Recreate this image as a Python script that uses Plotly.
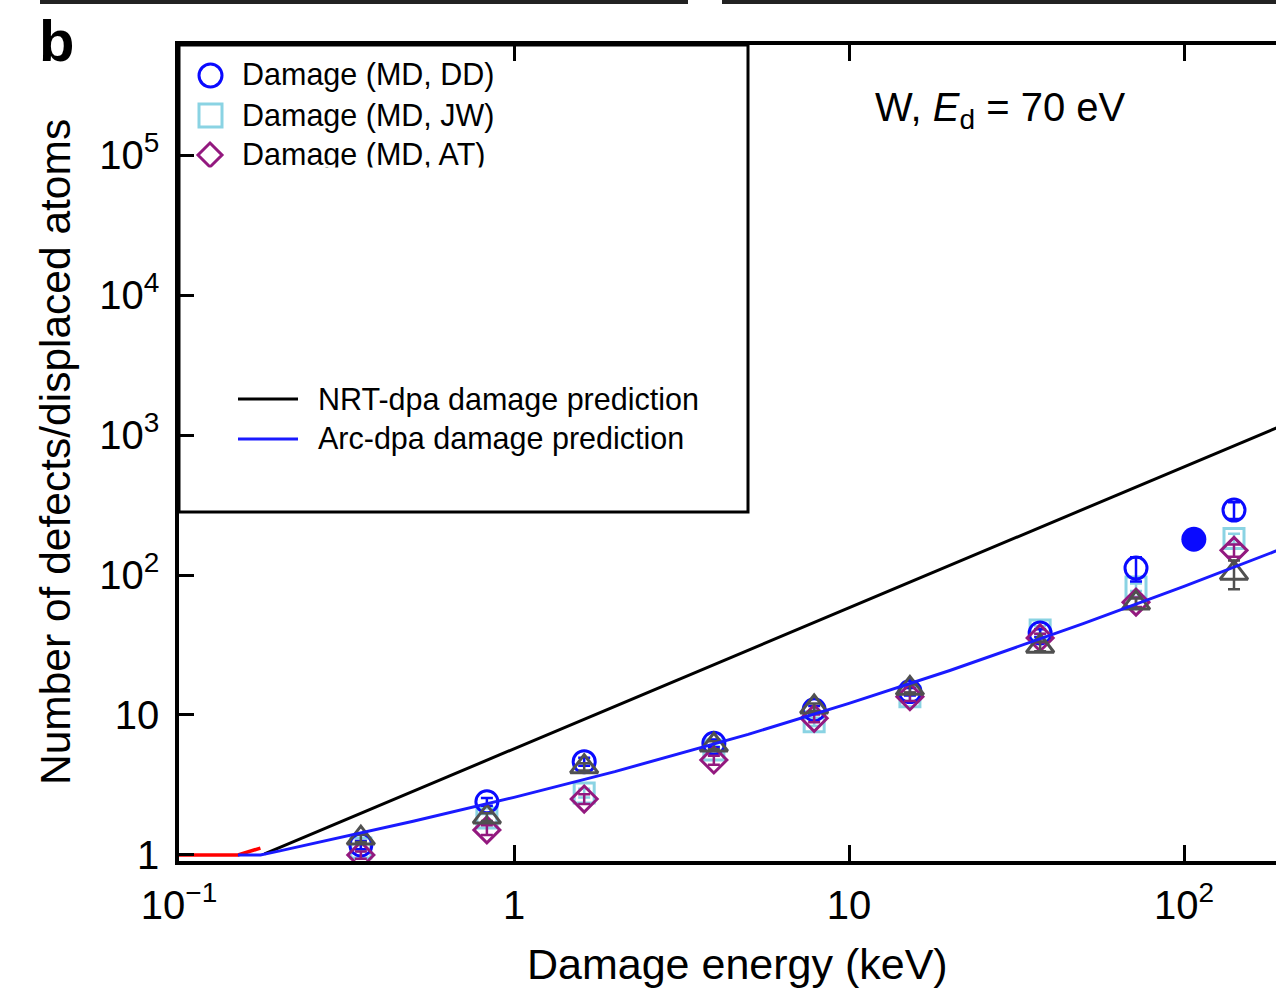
import plotly.graph_objects as go

# ---------------- data ----------------
E_md = [0.349, 0.83, 1.62, 3.95, 7.87, 15.2, 37.2, 71.9, 141]
dmg_dd = [1.18, 2.40, 4.64, 6.28, 10.9, 14.7, 38.5, 112, 291]
dmg_dd_err = [0.08, 0.15, 0.3, 0.4, 0.7, 0.9, 2.5, 22, 40]
dmg_jw = [1.12, 1.84, 2.77, 5.62, 8.96, 13.5, 40.5, 82, 182]
dmg_jw_err = [0.06, 0.12, 0.2, 0.35, 0.6, 0.9, 2.5, 5, 15]
dmg_at = [1.0, 1.51, 2.51, 4.77, 9.47, 13.5, 35.5, 64, 150]
dmg_at_err = [0.06, 0.12, 0.2, 0.35, 0.6, 0.9, 2.5, 5, 15]
dmg_md4 = [1.32, 1.87, 4.27, 6.1, 11.4, 15.5, 31, 63, 103]
dmg_md4_err = [0.08, 0.12, 0.25, 0.4, 0.7, 1.0, 2.5, 5, 24]
E_filled = [107]
dmg_filled = [180]

E_red = [0.1, 0.15, 0.175]
dmg_red = [1.0, 1.0, 1.12]
E_nrt = [0.18, 200]
dmg_nrt = [1.02, 1190]
E_arc = [0.15, 0.175, 0.2, 0.3, 0.5, 1, 2, 5, 10, 20, 50, 100, 200]
dmg_arc = [1.0, 1.0, 1.07, 1.32, 1.74, 2.58, 3.94, 7.27, 12.1, 20.8, 44.9, 83, 157]

x_tickvals = [0.1, 1, 10, 100]
x_ticktext = ["10<sup>\u22121</sup>", "1", "10", "10<sup>2</sup>"]
y_tickvals = [1, 10, 100, 1e3, 1e4, 1e5]
y_ticktext = ["1", "10", "10<sup>2</sup>", "10<sup>3</sup>", "10<sup>4</sup>", "10<sup>5</sup>"]

legend_labels = ["Damage (MD, DD)", "Damage (MD, JW)", "Damage (MD, AT)",
                 "NRT-dpa damage prediction", "Arc-dpa damage prediction"]

# ---------------- styling ----------------
FONT = "Liberation Sans, Arial, Helvetica, sans-serif"
C_DD = "#0a0aff"
C_JW = "#8ad3e3"
C_AT = "#93197f"
C_MD4 = "#505050"
C_ARC = "#1a1aff"

W, H = 1276, 991
L, R, T, B = 179, 0, 45, 130
PW = W - L - R
PH = H - T - B


def px2x(px):
    return (px - L) / PW


def px2y(py):
    return (H - B - py) / PH


fig = go.Figure()


def md_trace(y, err, symbol, color, size, name):
    return go.Scatter(
        x=E_md, y=y, mode="markers", name=name,
        marker=dict(symbol=symbol, size=size, color=color,
                    line=dict(color=color, width=3)),
        error_y=dict(type="data", array=err, visible=True, color=color,
                     thickness=2.5, width=6),
        showlegend=False,
    )


fig.add_trace(md_trace(dmg_jw, dmg_jw_err, "square-open", C_JW, 20, legend_labels[1]))
fig.add_trace(md_trace(dmg_dd, dmg_dd_err, "circle-open", C_DD, 22, legend_labels[0]))
fig.add_trace(md_trace(dmg_at, dmg_at_err, "diamond-open", C_AT, 20, legend_labels[2]))
fig.add_trace(md_trace(dmg_md4, dmg_md4_err, "triangle-up-open", C_MD4, 24, "Damage (MD)"))
fig.add_trace(go.Scatter(x=E_filled, y=dmg_filled, mode="markers",
                         marker=dict(symbol="circle", size=25, color=C_DD),
                         showlegend=False))

fig.add_trace(go.Scatter(x=E_red, y=dmg_red, mode="lines",
                         line=dict(color="#ff0000", width=3.5), showlegend=False))
fig.add_trace(go.Scatter(x=E_nrt, y=dmg_nrt, mode="lines", name=legend_labels[3],
                         line=dict(color="black", width=3), showlegend=False))
fig.add_trace(go.Scatter(x=E_arc, y=dmg_arc, mode="lines", name=legend_labels[4],
                         line=dict(color=C_ARC, width=3), showlegend=False))

shapes = []
# legend box
shapes.append(dict(type="rect", xref="paper", yref="paper",
                   x0=px2x(179), x1=px2x(748), y0=px2y(512), y1=px2y(45),
                   fillcolor="white", line=dict(color="black", width=3), layer="below"))
# legend symbols
shapes.append(dict(type="circle", xref="paper", yref="paper",
                   x0=px2x(199), x1=px2x(222), y0=px2y(87), y1=px2y(64),
                   line=dict(color=C_DD, width=3), layer="above"))
shapes.append(dict(type="rect", xref="paper", yref="paper",
                   x0=px2x(199), x1=px2x(222), y0=px2y(127), y1=px2y(104),
                   line=dict(color=C_JW, width=3), layer="above"))
cx, cy, r = 210, 155, 12
shapes.append(dict(type="path", xref="paper", yref="paper",
                   path=f"M {px2x(cx)},{px2y(cy - r)} L {px2x(cx + r)},{px2y(cy)} "
                        f"L {px2x(cx)},{px2y(cy + r)} L {px2x(cx - r)},{px2y(cy)} Z",
                   line=dict(color=C_AT, width=3), layer="above"))
shapes.append(dict(type="line", xref="paper", yref="paper",
                   x0=px2x(238), x1=px2x(298), y0=px2y(399), y1=px2y(399),
                   line=dict(color="black", width=3), layer="above"))
shapes.append(dict(type="line", xref="paper", yref="paper",
                   x0=px2x(238), x1=px2x(298), y0=px2y(439), y1=px2y(439),
                   line=dict(color=C_ARC, width=3), layer="above"))
# remnants of the panel above
shapes.append(dict(type="line", xref="paper", yref="paper",
                   x0=px2x(40), x1=px2x(688), y0=px2y(2), y1=px2y(2),
                   line=dict(color="#222222", width=4)))
shapes.append(dict(type="line", xref="paper", yref="paper",
                   x0=px2x(722), x1=px2x(1276), y0=px2y(2), y1=px2y(2),
                   line=dict(color="#222222", width=4)))

ann = []
leg_y = [75, 115, 155, 399, 439]
leg_x = [240, 240, 240, 316, 316]
for lab, lx, ly in zip(legend_labels, leg_x, leg_y):
    ann.append(dict(text=lab, xref="paper", yref="paper", x=px2x(lx), y=px2y(ly),
                    xanchor="left", yanchor="middle", showarrow=False,
                    font=dict(family=FONT, size=30.5, color="black")))
# cover that clips the partly hidden legend area
ann.append(dict(text=" ", xref="paper", yref="paper", x=px2x(196), y=px2y(167),
                xanchor="left", yanchor="top", showarrow=False, width=540, height=200,
                bgcolor="white", borderpad=0, font=dict(size=10)))
ann.append(dict(text="W, <i>E</i><sub>d</sub> = 70 eV", xref="paper", yref="paper",
                x=px2x(1000), y=px2y(110), xanchor="center", yanchor="middle",
                showarrow=False, font=dict(family=FONT, size=40, color="black")))
ann.append(dict(text="<b>b</b>", xref="paper", yref="paper",
                x=px2x(56), y=px2y(40), xanchor="center", yanchor="middle",
                showarrow=False, font=dict(family=FONT, size=58, color="black")))
ann.append(dict(text="Damage energy (keV)", xref="paper", yref="paper",
                x=px2x(737), y=px2y(964), xanchor="center", yanchor="middle",
                showarrow=False, font=dict(family=FONT, size=43, color="black")))
ann.append(dict(text="Number of defects/displaced atoms", xref="paper", yref="paper",
                x=px2x(55), y=px2y(452), xanchor="center", yanchor="middle",
                textangle=-90, showarrow=False,
                font=dict(family=FONT, size=42.5, color="black")))

fig.update_layout(
    width=W, height=H,
    margin=dict(l=L, r=R, t=T, b=B, pad=0),
    paper_bgcolor="white", plot_bgcolor="white",
    showlegend=False,
    shapes=shapes, annotations=ann,
    font=dict(family=FONT, color="black"),
    xaxis=dict(type="log", range=[-1, 2.2746], showline=True, linewidth=3.5,
               linecolor="black", mirror="ticks", ticks="inside", ticklen=16,
               tickwidth=3, tickcolor="black", tickvals=x_tickvals,
               ticktext=x_ticktext, tickfont=dict(family=FONT, size=40, color="black"),
               showgrid=False, zeroline=False, ticklabelstandoff=6),
    yaxis=dict(type="log", range=[-0.043, 5.786], showline=True, linewidth=3.5,
               linecolor="black", mirror=False, ticks="inside", ticklen=15,
               tickwidth=3, tickcolor="black", tickvals=y_tickvals,
               ticktext=y_ticktext, tickfont=dict(family=FONT, size=40, color="black"),
               showgrid=False, zeroline=False, ticklabelstandoff=8),
)

fig.write_html("out.html")
